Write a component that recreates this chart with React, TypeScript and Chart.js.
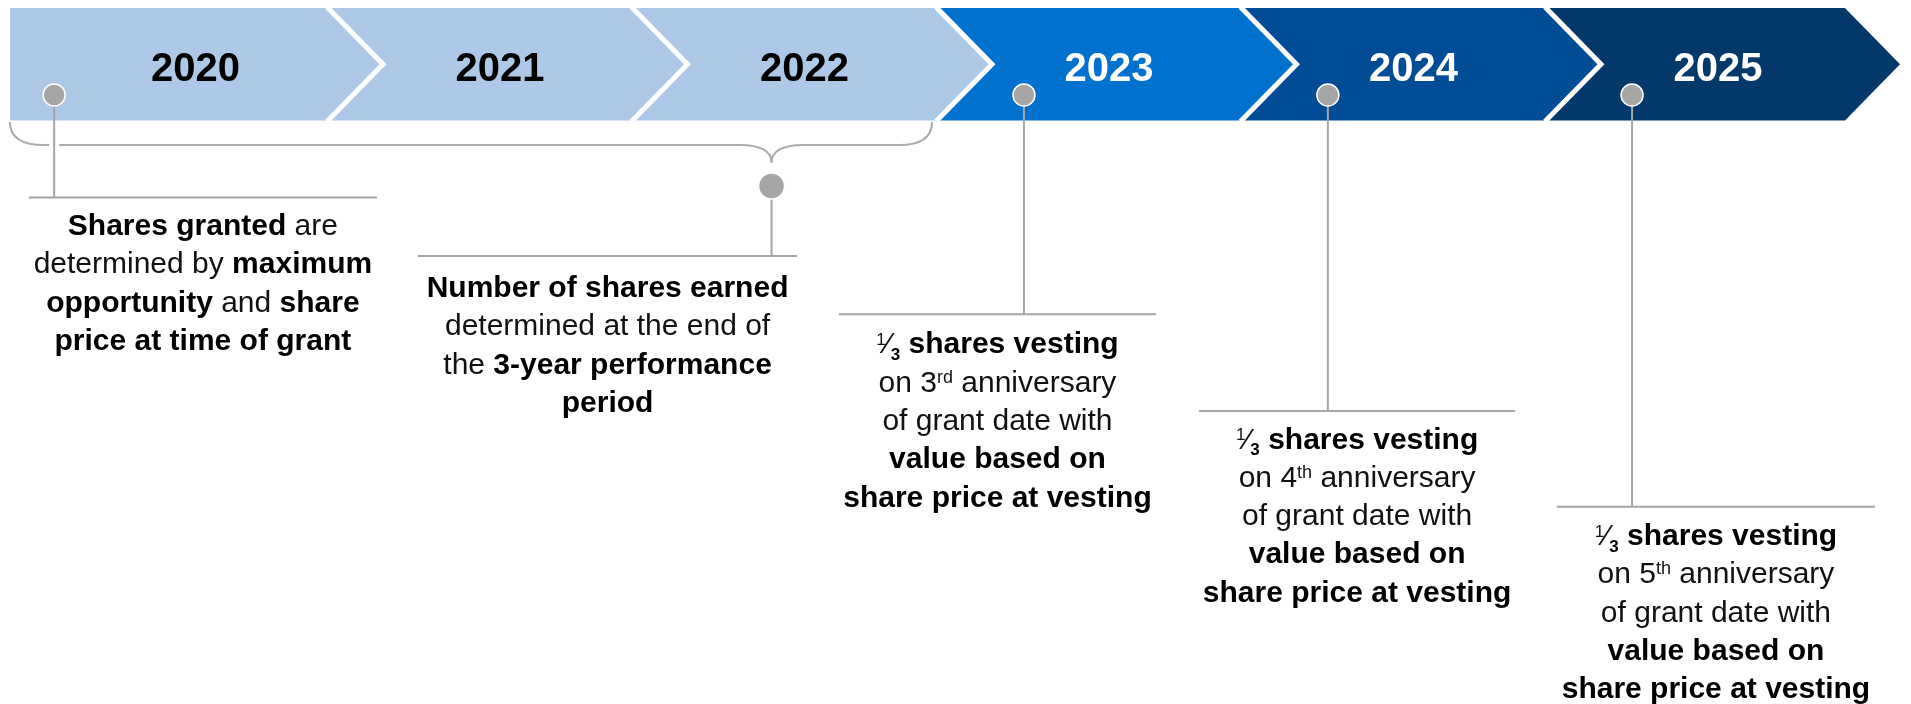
import React, { useEffect, useRef } from 'react';
import { Chart, registerables } from 'chart.js';

Chart.register(...registerables);

// ---------- DATA ----------
const years = [2020, 2021, 2022, 2023, 2024, 2025];
const yearFill = ['#AEC8E8', '#AEC8E8', '#AEC8E8', '#0071CE', '#004C97', '#03396A'];
const yearInk = ['#000000', '#000000', '#000000', '#FFFFFF', '#FFFFFF', '#FFFFFF'];

// events on the timeline (x in years)
const eventNames = ['Grant', 'End of performance period', '3rd anniversary', '4th anniversary', '5th anniversary'];
const eventYear = [2019.92, 2022.276, 2023.105, 2024.103, 2025.102];

// callout spans (years) under each event
const calloutFrom = [2019.837, 2021.115, 2022.497, 2023.68, 2024.855];
const calloutTo = [2020.98, 2022.36, 2023.539, 2024.718, 2025.9];

// callout texts: *bold*, ^superscript^, § = one third
const calloutText: string[][] = [
  ['*Shares granted* are', 'determined by *maximum*', '*opportunity* and *share*', '*price at time of grant*'],
  ['*Number of shares earned*', 'determined at the end of', 'the *3-year performance*', '*period*'],
  ['§ *shares vesting*', 'on 3^rd^ anniversary', 'of grant date with', '*value based on*', '*share price at vesting*'],
  ['§ *shares vesting*', 'on 4^th^ anniversary', 'of grant date with', '*value based on*', '*share price at vesting*'],
  ['§ *shares vesting*', 'on 5^th^ anniversary', 'of grant date with', '*value based on*', '*share price at vesting*'],
];

// performance period brace (years)
const braceFrom = 2019.775;
const braceTo = 2022.803;
const braceTip = 2022.276;

// ---------- LAYOUT / STYLE ----------
const W = 1911;
const H = 704;
const X_MIN = 2019.7422;
const X_MAX = 2026.0181;
const BAND_START = 2019.775;
const BAND_END = 2025.982;
const L = {
  bandTop: 8,
  bandBottom: 120.5,
  arrow: 55,
  sepWidth: 5,
  yearBaseline: 80.5,
  yearOffset: 0.384,
  dotRow: [95, 186, 95, 95, 95],
  dotRadius: [11, 13, 11, 11, 11],
  lineRow: [197.5, 256, 314.3, 411, 506.7],
  firstBaseline: [235, 297, 353.3, 448.5, 545],
  lineStep: 38.3,
  braceY: 145,
  braceTipY: 163,
};
const FONT = '"Liberation Sans", Arial, Helvetica, sans-serif';
const GREY = '#A6A6A6';

type Seg = { t: string; bold: boolean; sup: boolean; frac: boolean };

function parseLine(line: string): Seg[] {
  const segs: Seg[] = [];
  let bold = false;
  let sup = false;
  let buf = '';
  const flush = () => {
    if (buf) {
      segs.push({ t: buf, bold, sup, frac: false });
      buf = '';
    }
  };
  for (const ch of line) {
    if (ch === '*') {
      flush();
      bold = !bold;
    } else if (ch === '^') {
      flush();
      sup = !sup;
    } else if (ch === '§') {
      flush();
      segs.push({ t: '', bold, sup: false, frac: true });
    } else buf += ch;
  }
  flush();
  return segs;
}

type Piece = { t: string; font: string; dy: number; color: string };

function pieces(segs: Seg[]): Piece[] {
  const out: Piece[] = [];
  for (const s of segs) {
    if (s.frac) {
      out.push({ t: '1', font: `17px ${FONT}`, dy: -8.5, color: '#111' });
      out.push({ t: '\u2044', font: `30px ${FONT}`, dy: 0, color: '#111' });
      out.push({ t: '3', font: `bold 17px ${FONT}`, dy: 6.5, color: '#000' });
    } else if (s.sup) {
      out.push({ t: s.t, font: `18px ${FONT}`, dy: -9, color: '#111' });
    } else {
      out.push({ t: s.t, font: `${s.bold ? 'bold ' : ''}30px ${FONT}`, dy: 0, color: s.bold ? '#000' : '#111' });
    }
  }
  return out;
}

function drawRich(ctx: CanvasRenderingContext2D, line: string, cx: number, y: number) {
  const ps = pieces(parseLine(line));
  let total = 0;
  const widths = ps.map((p) => {
    ctx.font = p.font;
    const w = ctx.measureText(p.t).width;
    total += w;
    return w;
  });
  let x = cx - total / 2;
  ctx.textAlign = 'left';
  ctx.textBaseline = 'alphabetic';
  ps.forEach((p, i) => {
    ctx.font = p.font;
    ctx.fillStyle = p.color;
    ctx.fillText(p.t, x, y + p.dy);
    x += widths[i];
  });
}

const timelinePlugin = {
  id: 'timeline',
  beforeDatasetsDraw(chart: any) {
    const ctx: CanvasRenderingContext2D = chart.ctx;
    const X = (v: number) => chart.scales.x.getPixelForValue(v);
    const Y = (v: number) => chart.scales.y.getPixelForValue(v);
    const top = Y(L.bandTop);
    const bot = Y(L.bandBottom);
    const mid = (top + bot) / 2;
    const d = L.arrow;
    const tips = years.map((y, i) => (i === years.length - 1 ? BAND_END : y + 1));

    ctx.save();
    // chevrons
    years.forEach((yr, i) => {
      const tip = X(tips[i]);
      ctx.beginPath();
      if (i === 0) {
        const left = X(BAND_START);
        ctx.moveTo(left, top);
        ctx.lineTo(tip - d, top);
        ctx.lineTo(tip, mid);
        ctx.lineTo(tip - d, bot);
        ctx.lineTo(left, bot);
      } else {
        const left = X(tips[i - 1]);
        ctx.moveTo(left - d, top);
        ctx.lineTo(tip - d, top);
        ctx.lineTo(tip, mid);
        ctx.lineTo(tip - d, bot);
        ctx.lineTo(left - d, bot);
        ctx.lineTo(left, mid);
      }
      ctx.closePath();
      ctx.fillStyle = yearFill[i];
      ctx.fill();
    });
    // white separators
    ctx.strokeStyle = '#FFFFFF';
    ctx.lineWidth = L.sepWidth;
    ctx.lineJoin = 'miter';
    for (let i = 1; i < years.length; i++) {
      const p = X(tips[i - 1]);
      ctx.beginPath();
      ctx.moveTo(p - d - 1, top - 1);
      ctx.lineTo(p, mid);
      ctx.lineTo(p - d - 1, bot + 1);
      ctx.stroke();
    }
    // year labels
    ctx.textAlign = 'center';
    ctx.textBaseline = 'alphabetic';
    ctx.font = `bold 40px ${FONT}`;
    years.forEach((yr, i) => {
      ctx.fillStyle = yearInk[i];
      ctx.fillText(String(yr), X(yr + L.yearOffset), Y(L.yearBaseline));
    });

    // brace
    const bx0 = X(braceFrom);
    const bx1 = X(braceTo);
    const bt = X(braceTip);
    const gx = X(eventYear[0]);
    const by = Y(L.braceY);
    ctx.strokeStyle = '#ABABAB';
    ctx.lineWidth = 2;
    ctx.lineCap = 'butt';
    ctx.beginPath();
    ctx.moveTo(bx0, bot + 1.5);
    ctx.quadraticCurveTo(bx0, by, bx0 + 34, by);
    ctx.lineTo(gx - 5, by);
    ctx.moveTo(gx + 5, by);
    ctx.lineTo(bt - 32, by);
    ctx.quadraticCurveTo(bt, by, bt, Y(L.braceTipY));
    ctx.moveTo(bt + 32, by);
    ctx.quadraticCurveTo(bt, by, bt, Y(L.braceTipY));
    ctx.moveTo(bt + 32, by);
    ctx.lineTo(bx1 - 33, by);
    ctx.quadraticCurveTo(bx1, by, bx1, bot + 1.5);
    ctx.stroke();

    // connectors and callout lines
    ctx.strokeStyle = GREY;
    ctx.lineWidth = 2;
    eventYear.forEach((ev, i) => {
      const x = X(ev);
      ctx.beginPath();
      ctx.moveTo(x, Y(L.dotRow[i]));
      ctx.lineTo(x, Y(L.lineRow[i]));
      ctx.stroke();
      ctx.beginPath();
      ctx.moveTo(X(calloutFrom[i]), Y(L.lineRow[i]));
      ctx.lineTo(X(calloutTo[i]), Y(L.lineRow[i]));
      ctx.stroke();
    });

    // callout texts
    calloutText.forEach((lines, i) => {
      const cx = (X(calloutFrom[i]) + X(calloutTo[i])) / 2;
      lines.forEach((ln, j) => {
        drawRich(ctx, ln, cx, Y(L.firstBaseline[i] + j * L.lineStep));
      });
    });
    ctx.restore();
  },
};

export default function App() {
  const ref = useRef<HTMLCanvasElement | null>(null);
  useEffect(() => {
    document.body.style.margin = '0';
    const canvas = ref.current;
    if (!canvas) return;
    const chart = new Chart(canvas, {
      type: 'scatter',
      data: {
        datasets: [
          {
            label: 'Events',
            data: eventYear.map((x, i) => ({ x, y: L.dotRow[i], name: eventNames[i] })) as any,
            pointRadius: L.dotRadius,
            pointHoverRadius: L.dotRadius,
            backgroundColor: GREY,
            borderColor: '#FFFFFF',
            borderWidth: 1.5,
            clip: false,
          },
        ],
      },
      options: {
        responsive: false,
        animation: false,
        devicePixelRatio: 1,
        events: [],
        layout: { padding: 0, autoPadding: false },
        plugins: { legend: { display: false }, tooltip: { enabled: false } },
        scales: {
          x: { type: 'linear', min: X_MIN, max: X_MAX, display: false },
          y: { type: 'linear', min: 0, max: H, reverse: true, display: false },
        },
      },
      plugins: [timelinePlugin],
    } as any);
    return () => chart.destroy();
  }, []);
  return <canvas ref={ref} width={W} height={H} style={{ display: 'block' }} />;
}
